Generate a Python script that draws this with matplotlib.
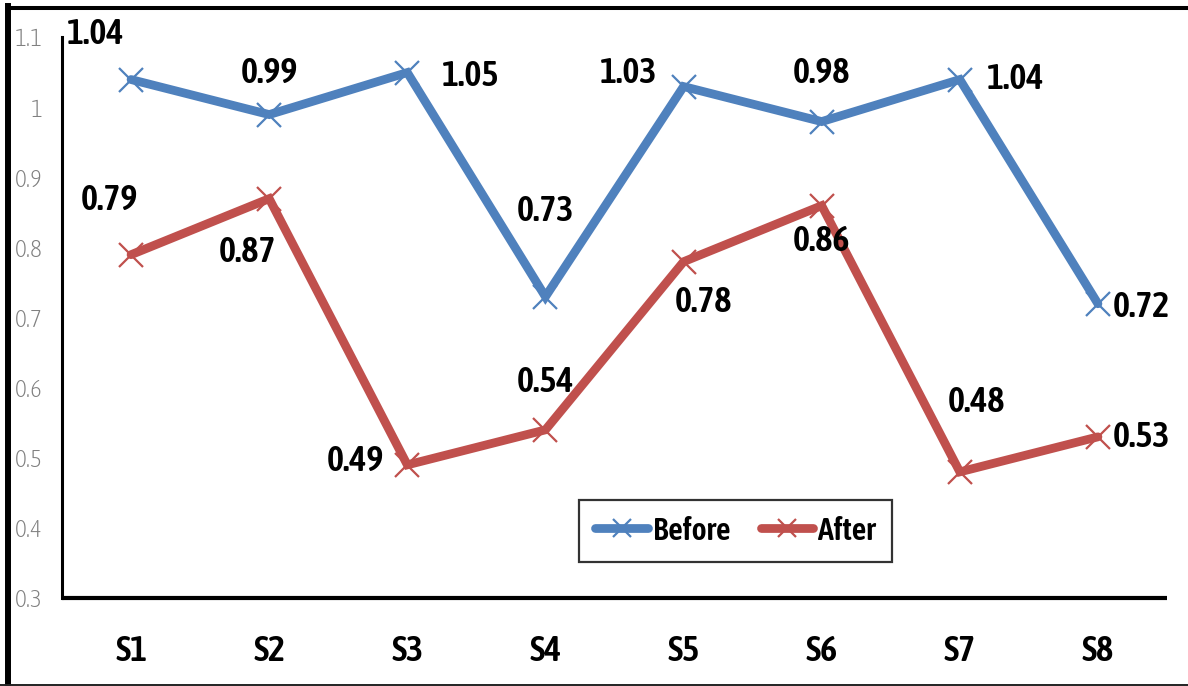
import matplotlib
matplotlib.use("Agg")
import matplotlib.pyplot as plt
from matplotlib.lines import Line2D

categories = ["S1", "S2", "S3", "S4", "S5", "S6", "S7", "S8"]
before = [1.04, 0.99, 1.05, 0.73, 1.03, 0.98, 1.04, 0.72]
after = [0.79, 0.87, 0.49, 0.54, 0.78, 0.86, 0.48, 0.53]
y_ticks = [0.3, 0.4, 0.5, 0.6, 0.7, 0.8, 0.9, 1.0, 1.1]
y_tick_labels = ["0.3", "0.4", "0.5", "0.6", "0.7", "0.8", "0.9", "1", "1.1"]

# label offsets in pixels (dx, dy) from each point
before_offsets = [(-35, 46), (0, 42), (63, -3), (0, 86), (-55, 14), (0, 49), (56, 1), (43, -3)]
after_offsets = [(-22, 55), (-22, -53), (-52, 4), (0, 48), (20, -40), (0, -35), (17, 70), (43, 0)]

BLUE = "#4F81BD"
RED = "#C0504D"
COND_FONT = ["Asap Condensed", "Barlow Condensed", "Liberation Sans", "DejaVu Sans"]

fig = plt.figure(figsize=(11.88, 6.86), dpi=100)
ax = fig.add_axes([62 / 1188, 88 / 686, (1167 - 62) / 1188, (598 - 37.5) / 686])

x = list(range(1, len(categories) + 1))
series = [("Before", before, BLUE, before_offsets), ("After", after, RED, after_offsets)]
for name, vals, col, offs in series:
    ax.plot(x, vals, color=col, lw=6.3, marker="x", markersize=17,
            markeredgewidth=1.6, markeredgecolor=col, label=name,
            solid_capstyle="round", solid_joinstyle="miter", zorder=3)
    for xi, v, (dx, dy) in zip(x, vals, offs):
        ax.annotate(f"{v:.2f}", (xi, v), xytext=(dx, dy), textcoords="offset pixels",
                    ha="center", va="center", fontsize=26, fontweight="semibold",
                    family=COND_FONT, color="black", zorder=4)

ax.set_xlim(0.5, 8.5)
ax.set_ylim(0.3, 1.1)
ax.set_xticks(x)
ax.set_xticklabels(categories, fontsize=26, fontweight="semibold", family=COND_FONT)
ax.set_yticks(y_ticks)
ax.set_yticklabels(y_tick_labels, fontsize=18, fontweight="light", family=COND_FONT,
                   color="#808080")
ax.tick_params(axis="x", length=0, pad=26)
ax.tick_params(axis="y", length=0, pad=14)

for s in ("top", "right"):
    ax.spines[s].set_visible(False)
ax.spines["left"].set_linewidth(2.2)
ax.spines["bottom"].set_linewidth(3.0)
ax.spines["bottom"].set_capstyle("butt")

leg = ax.legend(loc="center", bbox_to_anchor=(735.5 / 1188, 1 - 531 / 686),
                bbox_transform=fig.transFigure, ncol=2, frameon=True, fancybox=False,
                prop={"family": COND_FONT, "weight": "semibold", "size": 23},
                handlelength=1.65, handletextpad=0.15, columnspacing=0.95,
                borderpad=0.5, markerscale=0.75)
leg.get_frame().set_edgecolor("black")
leg.get_frame().set_linewidth(1.6)
for h in leg.legend_handles:
    h.set_linewidth(6.3)

# outer frame around the figure
fig.add_artist(Line2D([8 / 1188, 8 / 1188], [0, 1 - 6 / 686], transform=fig.transFigure,
                      color="black", lw=4.3, solid_capstyle="projecting"))
fig.add_artist(Line2D([8 / 1188, 1], [1 - 8 / 686, 1 - 8 / 686], transform=fig.transFigure,
                      color="black", lw=2.9, solid_capstyle="butt"))
fig.add_artist(Line2D([0, 1], [1 / 686, 1 / 686], transform=fig.transFigure,
                      color="#222222", lw=1.4))

fig.savefig("out.png", dpi=100)
